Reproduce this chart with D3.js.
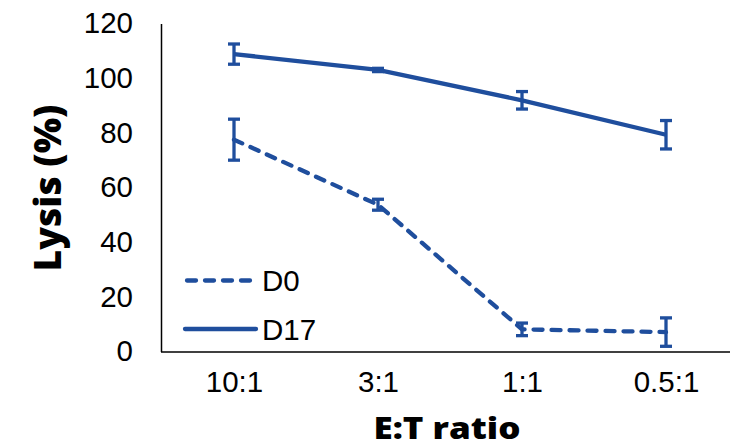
<!DOCTYPE html>
<html>
<head>
<meta charset="utf-8">
<script src="https://cdn.jsdelivr.net/npm/d3@7"></script>
<style>
  body { margin: 0; background: #fff; }
  svg { display: block; }
</style>
</head>
<body>
<div id="chart"></div>
<script>
const categories = ["10:1", "3:1", "1:1", "0.5:1"];
const yTicks = [0, 20, 40, 60, 80, 100, 120];
const d0Values = [77.5, 53.7, 8.1, 7.1];
const d0Errors = [7.5, 2.0, 2.3, 5.2];
const d17Values = [108.8, 103.0, 91.9, 79.3];
const d17Errors = [3.7, 0.6, 3.2, 5.2];
const seriesNames = ["D0", "D17"];

const width = 730;
const height = 447;
const color = "#1f4e9d";

const svg = d3.select("#chart")
  .append("svg")
  .attr("width", width)
  .attr("height", height);

const x = d3.scalePoint()
  .domain(categories)
  .range([162, 738])
  .padding(0.5);

const y = d3.scaleLinear()
  .domain([0, 120])
  .range([351.5, 23.5]);

// axes (no tick marks, Excel style)
const yAxis = d3.axisLeft(y).tickValues(yTicks).tickSize(0).tickPadding(28);
const gy = svg.append("g")
  .attr("transform", "translate(161,0)")
  .call(yAxis);
gy.select(".domain").attr("stroke", "#000").attr("stroke-width", 1.5);
gy.selectAll("text")
  .attr("font-family", "'Liberation Sans', Arial, sans-serif")
  .attr("font-size", 29.5)
  .attr("fill", "#000");

const xAxis = d3.axisBottom(x).tickSize(0).tickPadding(19);
const gx = svg.append("g")
  .attr("transform", "translate(0,352)")
  .call(xAxis);
gx.select(".domain").attr("d", "M161,0H730").attr("stroke", "#000").attr("stroke-width", 1.5);
gx.selectAll("text")
  .attr("font-family", "'Liberation Sans', Arial, sans-serif")
  .attr("font-size", 29.5)
  .attr("fill", "#000");

// titles
svg.append("text")
  .attr("transform", "translate(61,188) rotate(-90)")
  .attr("text-anchor", "middle")
  .attr("font-family", "'Open Sans', Lato, sans-serif")
  .attr("font-weight", 800)
  .attr("font-size", 37)
  .attr("textLength", 167)
  .attr("lengthAdjust", "spacingAndGlyphs")
  .attr("fill", "#000")
  .text("Lysis (%)");

svg.append("text")
  .attr("x", 447)
  .attr("y", 438.5)
  .attr("text-anchor", "middle")
  .attr("font-family", "'Open Sans', Lato, sans-serif")
  .attr("font-weight", 800)
  .attr("font-size", 29.5)
  .attr("textLength", 147)
  .attr("lengthAdjust", "spacingAndGlyphs")
  .attr("fill", "#000")
  .text("E:T ratio");

const line = d3.line()
  .x((d, i) => x(categories[i]))
  .y(d => y(d));

const drawSeries = (values, errors, dashed) => {
  const g = svg.append("g");
  g.append("path")
    .datum(values)
    .attr("fill", "none")
    .attr("stroke", color)
    .attr("stroke-width", 4.3)
    .attr("stroke-linecap", dashed ? "round" : "butt")
    .attr("stroke-dasharray", dashed ? "9 9" : null)
    .attr("d", line);

  const bars = g.selectAll(".err")
    .data(values.map((v, i) => ({ c: categories[i], v, e: errors[i] })))
    .enter()
    .append("g")
    .attr("class", "err");
  bars.append("line")
    .attr("x1", d => x(d.c)).attr("x2", d => x(d.c))
    .attr("y1", d => y(d.v + d.e)).attr("y2", d => y(d.v - d.e))
    .attr("stroke", color).attr("stroke-width", 3.3);
  bars.append("line")
    .attr("x1", d => x(d.c) - 6).attr("x2", d => x(d.c) + 6)
    .attr("y1", d => y(d.v + d.e)).attr("y2", d => y(d.v + d.e))
    .attr("stroke", color).attr("stroke-width", 3.3);
  bars.append("line")
    .attr("x1", d => x(d.c) - 6).attr("x2", d => x(d.c) + 6)
    .attr("y1", d => y(d.v - d.e)).attr("y2", d => y(d.v - d.e))
    .attr("stroke", color).attr("stroke-width", 3.3);
};

drawSeries(d17Values, d17Errors, false);
drawSeries(d0Values, d0Errors, true);

// legend
const legend = svg.append("g");
seriesNames.forEach((name, i) => {
  const ly = 280.5 + i * 48.5;
  legend.append("line")
    .attr("x1", i === 0 ? 187 : 185).attr("x2", i === 0 ? 254 : 256)
    .attr("y1", ly).attr("y2", ly)
    .attr("stroke", color)
    .attr("stroke-width", 4.3)
    .attr("stroke-linecap", "round")
    .attr("stroke-dasharray", i === 0 ? "9 9" : null);
  legend.append("text")
    .attr("x", 262)
    .attr("y", ly + 10.5)
    .attr("font-family", "'Liberation Sans', Arial, sans-serif")
    .attr("font-size", 29.5)
    .attr("fill", "#000")
    .text(name);
});
</script>
</body>
</html>
